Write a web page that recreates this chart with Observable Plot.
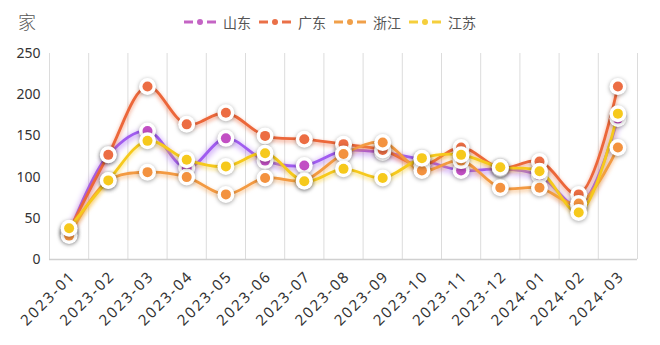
<!DOCTYPE html>
<html>
<head>
<meta charset="utf-8">
<script src="https://cdn.jsdelivr.net/npm/d3@7"></script>
<script src="https://cdn.jsdelivr.net/npm/@observablehq/plot@0.6"></script>
<style>
  html, body { margin: 0; padding: 0; background: #fff; }
  #wrap { width: 660px; height: 345px; position: relative; overflow: hidden; font-family: "Noto Sans", "Noto Sans CJK SC", sans-serif; }
  #head { position: relative; height: 40px; }
  #unit { position: absolute; left: 18px; top: 8px; font-size: 18px; color: #555; font-family: "Noto Sans CJK SC", serif; font-weight: 300; }
  #legend { position: absolute; top: 12px; left: 183px; display: flex; align-items: center; font-size: 14px; color: #555; font-family: "Noto Sans CJK SC", sans-serif; }
  .item { display: flex; align-items: center; margin-right: 7px; }
  .item svg { margin-right: 7px; }
</style>
</head>
<body>
<div id="wrap">
  <div id="head"><div id="unit">家</div><div id="legend"></div></div>
  <div id="chart"></div>
</div>
<script>
const months = ["2023-01","2023-02","2023-03","2023-04","2023-05","2023-06","2023-07","2023-08","2023-09","2023-10","2023-11","2023-12","2024-01","2024-02","2024-03"];
const seriesNames = ["山东","广东","浙江","江苏"];
const shandong = [32, 127, 156, 111, 147, 120, 114, 132, 130, 121, 108, 110, 102, 65, 171];
const guangdong = [35, 127, 210, 164, 178, 150, 146, 140, 133, 114, 136, 111, 119, 79, 210];
const zhejiang = [29, 96, 106, 100, 79, 99, 96, 128, 142, 108, 120, 87, 87, 68, 136];
const jiangsu = [38, 96, 144, 121, 113, 129, 95, 110, 99, 123, 127, 112, 107, 57, 177];
const yTicks = [0, 50, 100, 150, 200, 250];

const lineColors = ["#a05cf0", "#ec673a", "#f39a42", "#f6c91c"];
const dotColors = ["#c24fc4", "#ec6d43", "#f3923f", "#f6c91c"];
const legendColors = ["#c464c4", "#ea7048", "#f0a04a", "#f5cf3c"];

const valuesBySeries = [shandong, guangdong, zhejiang, jiangsu];
const rows = [];
seriesNames.forEach((s, k) => valuesBySeries[k].forEach((v, i) => rows.push({series: s, i, month: months[i], v})));

// legend
const legend = document.getElementById("legend");
seriesNames.forEach((s, k) => {
  const c = legendColors[k];
  const div = document.createElement("div");
  div.className = "item";
  div.innerHTML = `<svg width="33" height="10"><line x1="1" y1="5" x2="10" y2="5" stroke="${c}" stroke-width="3"/><circle cx="17" cy="5" r="3" fill="${c}"/><line x1="24" y1="5" x2="33" y2="5" stroke="${c}" stroke-width="3"/></svg><span>${s}</span>`;
  legend.appendChild(div);
});

const marks = [
  Plot.ruleX(d3.range(months.length + 1).map(i => i - 0.5), {stroke: "#dcdcdc", strokeWidth: 1}),
  Plot.ruleY([0], {stroke: "#d0d0d0", strokeWidth: 1.5}),
  Plot.axisY({ticks: yTicks, tickSize: 0, tickPadding: 9, fontSize: 14, fill: "#333", label: null}),
  Plot.axisX({ticks: d3.range(months.length), tickFormat: i => months[i], tickRotate: -45, tickSize: 0, tickPadding: 13, dx: 4, dy: 1, fontSize: 15, fill: "#333", label: null}),
  Plot.line(rows, {x: "i", y: "v", z: "series", stroke: "series", strokeWidth: 2.8, curve: "catmull-rom"})
];
seriesNames.forEach((s, k) => {
  const d = rows.filter(r => r.series === s);
  marks.push(Plot.dot(d, {x: "i", y: "v", r: 8.5, fill: "white"}));
  marks.push(Plot.dot(d, {x: "i", y: "v", r: 5, fill: dotColors[k]}));
});

const svg = Plot.plot({
  width: 660,
  height: 305,
  marginTop: 13,
  marginBottom: 86,
  marginLeft: 49,
  marginRight: 23,
  style: {fontFamily: "'Noto Sans', 'Noto Sans CJK SC', sans-serif", background: "white", overflow: "visible"},
  x: {type: "linear", domain: [-0.5, months.length - 0.5], axis: null},
  y: {domain: [0, 250], axis: null},
  color: {domain: seriesNames, range: lineColors},
  marks
});
document.getElementById("chart").appendChild(svg);

// soft glow under lines
svg.querySelectorAll('g[aria-label="line"] path').forEach(p => {
  const c = p.getAttribute("stroke");
  const strong = c.toLowerCase() === "#a05cf0";
  p.style.filter = strong ? `drop-shadow(0 2px 3px ${c})` : `drop-shadow(0 2px 2px ${c}aa)`;
});
svg.querySelectorAll('g[aria-label="dot"]').forEach(g => {
  if ((g.getAttribute("fill") || "").toLowerCase() === "white") g.style.filter = "drop-shadow(0 1px 2px rgba(0,0,0,0.35))";
});
svg.querySelectorAll('g[aria-label="x-axis tick label"] text').forEach(t => t.setAttribute("letter-spacing", "2"));
</script>
</body>
</html>
